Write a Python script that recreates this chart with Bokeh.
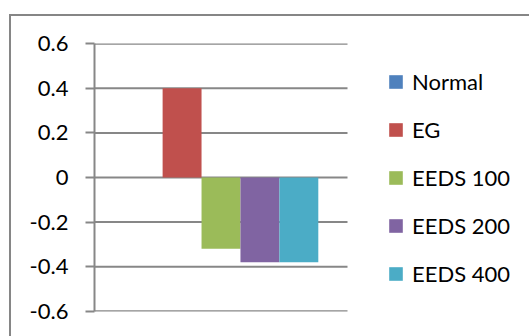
from bokeh.plotting import figure
from bokeh.models import Range1d, FixedTicker, Legend, LegendItem, ColumnDataSource
from bokeh.embed import file_html
from bokeh.resources import INLINE

series = ["Normal", "EG", "EEDS 100", "EEDS 200", "EEDS 400"]
values = [0.0, 0.4, -0.32, -0.38, -0.38]
colors = ["#4F81BD", "#C0504D", "#9BBB59", "#8064A2", "#4BACC6"]
tick_values = [-0.6, -0.4, -0.2, 0.0, 0.2, 0.4, 0.6]
tick_labels = ["-0.6", "-0.4", "-0.2", "0", "0.2", "0.4", "0.6"]

FONT = "Lato"
GRID = "#878787"
EPS = 0.0008

W, H = 529, 336
LEFT, TOP, BOTTOM = 94, 43, 25
PLOT_W = 253                      # width of the plot area (bars + gridlines)
FRAME_W = W - LEFT                # frame runs to the right edge, legend sits in it
GAP = 0.75                        # category gap on each side, in bar widths
x0 = -0.5 - GAP
x1 = len(series) - 0.5 + GAP
x_end = x0 + (x1 - x0) * FRAME_W / PLOT_W

p = figure(width=W, height=H, output_backend="svg", toolbar_location=None,
           x_range=Range1d(x0, x_end),
           y_range=Range1d(min(tick_values) - EPS, max(tick_values) + EPS),
           min_border_left=LEFT, min_border_right=0, min_border_top=TOP, min_border_bottom=BOTTOM)
p.outline_line_color = None
p.background_fill_color = "white"
p.border_fill_color = None
p.styles = {
    "background": ("linear-gradient(#868686,#868686) 9px 14px / 2px 400px no-repeat, "
                   "linear-gradient(#868686,#868686) 9px 14px / 600px 2px no-repeat, #ffffff")
}

# horizontal gridlines limited to the plot area
p.segment(x0=[x0] * len(tick_values), x1=[x1] * len(tick_values),
          y0=tick_values, y1=tick_values, line_color=GRID, line_width=2)

items = []
for i, (name, v, c) in enumerate(zip(series, values, colors)):
    src = ColumnDataSource(dict(x=[i], top=[max(v, 0)], bottom=[min(v, 0)]))
    r = p.vbar(x="x", top="top", bottom="bottom", width=1.0, source=src,
               fill_color=c, line_color=None)
    items.append(LegendItem(label=name, renderers=[r]))

p.xaxis.visible = False
p.xgrid.visible = False
p.ygrid.visible = False

ya = p.yaxis[0]
ya.ticker = FixedTicker(ticks=tick_values)
ya.major_label_overrides = {v: lab for v, lab in zip(tick_values, tick_labels)}
ya.axis_line_color = GRID
ya.axis_line_width = 2
ya.major_tick_line_color = GRID
ya.major_tick_line_width = 2
ya.major_tick_out = 9
ya.major_tick_in = 0
ya.minor_tick_line_color = None
ya.major_label_standoff = 17
ya.major_label_text_font = FONT
ya.major_label_text_font_size = "22px"
ya.major_label_text_color = "black"

legend = Legend(items=items, location=(293, 24))
legend.label_text_font = FONT
legend.label_text_font_size = "22px"
legend.label_text_color = "black"
legend.glyph_width = 17
legend.glyph_height = 17
legend.label_height = 27
legend.label_standoff = 8
legend.spacing = 21
legend.padding = 0
legend.margin = 0
legend.border_line_color = None
legend.background_fill_alpha = 0
p.add_layout(legend, "center")

open("out.html", "w").write(file_html(p, INLINE))
